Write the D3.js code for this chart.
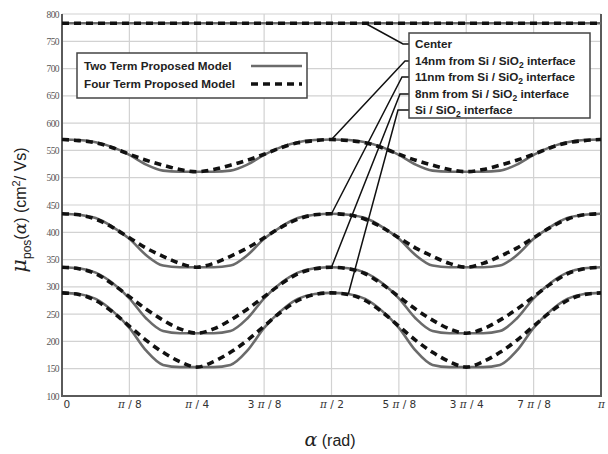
<!DOCTYPE html>
<html>
<head>
<meta charset="utf-8">
<script src="https://cdn.jsdelivr.net/npm/d3@7/dist/d3.min.js"></script>
<style>
  body { margin: 0; background: #fff; }
  svg { display: block; }
</style>
</head>
<body>
<svg id="chart" width="608" height="454"></svg>
<script>
// Sample positions along the angle axis, as fractions of pi
const alphaOverPi = [0, 0.03125, 0.0625, 0.09375, 0.125, 0.15625, 0.1875, 0.21875, 0.25,
  0.28125, 0.3125, 0.34375, 0.375, 0.40625, 0.4375, 0.46875, 0.5,
  0.53125, 0.5625, 0.59375, 0.625, 0.65625, 0.6875, 0.71875, 0.75,
  0.78125, 0.8125, 0.84375, 0.875, 0.90625, 0.9375, 0.96875, 1];

// Mobility (cm^2/Vs), two-term model
const centerTwo = [783,783,783,783,783,783,783,783,783,783,783,783,783,783,783,783,783,783,783,783,783,783,783,783,783,783,783,783,783,783,783,783,783];
const nm14Two = [570,569,565,556,542,524,513,511,511, 511,513,524,542,556,565,569,570, 569,565,556,542,524,513,511,511, 511,513,524,542,556,565,569,570];
const nm11Two = [434,432,426,410,388,358,339,336,336, 336,339,358,388,410,426,432,434, 432,426,410,388,358,339,336,336, 336,339,358,388,410,426,432,434];
const nm8Two = [336,334,326,307,279,242,219,215,215, 215,219,242,279,307,326,334,336, 334,326,307,279,242,219,215,215, 215,219,242,279,307,326,334,336];
const interfaceTwo = [289,287,278,256,225,183,157,153,153, 153,157,183,225,256,278,287,289, 287,278,256,225,183,157,153,153, 153,157,183,225,256,278,287,289];

// Mobility (cm^2/Vs), four-term model
const centerFour = [783,783,783,783,783,783,783,783,783,783,783,783,783,783,783,783,783,783,783,783,783,783,783,783,783,783,783,783,783,783,783,783,783];
const nm14Four = [570,568,564,555,543,532,523,515,511, 515,523,532,543,555,564,568,570, 568,564,555,543,532,523,515,511, 515,523,532,543,555,564,568,570];
const nm11Four = [434,432,424,409,390,371,356,343,336, 343,356,371,390,409,424,432,434, 432,424,409,390,371,356,343,336, 343,356,371,390,409,424,432,434];
const nm8Four = [336,333,324,305,282,259,239,223,215, 223,239,259,282,305,324,333,336, 333,324,305,282,259,239,223,215, 223,239,259,282,305,324,333,336];
const interfaceFour = [289,286,275,254,228,202,180,163,153, 163,180,202,228,254,275,286,289, 286,275,254,228,202,180,163,153, 163,180,202,228,254,275,286,289];

// Axis ticks
const xTickValues = [0, 0.125, 0.25, 0.375, 0.5, 0.625, 0.75, 0.875, 1];
const xTickLabels = ["0", "π / 8", "π / 4", "3 π / 8", "π / 2", "5 π / 8", "3 π / 4", "7 π / 8", "π"];
const yTickValues = [100, 150, 200, 250, 300, 350, 400, 450, 500, 550, 600, 650, 700, 750, 800];

// Legend and callout text
const legendLabels = ["Two Term Proposed Model", "Four Term Proposed Model"];
const calloutLabels = [
  ["Center"],
  ["14nm from Si / SiO", "2", " interface"],
  ["11nm from Si / SiO", "2", " interface"],
  ["8nm from Si / SiO", "2", " interface"],
  ["Si / SiO", "2", " interface"]
];

const svg = d3.select("#chart");
const W = 608, H = 454;
const plot = { left: 62, right: 601, top: 14, bottom: 396 };

const x = d3.scaleLinear().domain([0, Math.PI]).range([plot.left, plot.right]);
const y = d3.scaleLinear().domain([100, 800]).range([plot.bottom, plot.top]);

svg.append("rect").attr("width", W).attr("height", H).attr("fill", "#fff");

// Grid
const grid = svg.append("g");
grid.selectAll("line.h").data(yTickValues).join("line")
  .attr("x1", plot.left).attr("x2", plot.right)
  .attr("y1", d => y(d)).attr("y2", d => y(d))
  .attr("stroke", "#d2d2d2").attr("stroke-width", 1.2);
grid.selectAll("line.v").data(xTickValues).join("line")
  .attr("y1", plot.top).attr("y2", plot.bottom)
  .attr("x1", d => x(d * Math.PI)).attr("x2", d => x(d * Math.PI))
  .attr("stroke", "#d2d2d2").attr("stroke-width", 1.2);

// Axes
const yAxis = svg.append("g").attr("transform", `translate(${plot.left},0)`)
  .call(d3.axisLeft(y).tickValues(yTickValues).tickSize(0).tickPadding(3).tickFormat(d3.format("d")));
yAxis.select(".domain").remove();
yAxis.selectAll("text").attr("font-family", "Liberation Serif, serif").attr("font-size", 9.5)
  .attr("fill", "#555").attr("letter-spacing", -0.6);

const xAxis = svg.append("g").attr("transform", `translate(0,${plot.bottom})`)
  .call(d3.axisBottom(x).tickValues(xTickValues.map(d => d * Math.PI)).tickSize(0).tickPadding(5)
    .tickFormat((d, i) => xTickLabels[i]));
xAxis.select(".domain").remove();
xAxis.selectAll("text").each(function (d, i) {
  const t = d3.select(this);
  const label = xTickLabels[i];
  t.text(null).attr("font-family", "DejaVu Sans, sans-serif").attr("font-size", 10.5).attr("fill", "#333");
  if (i === 0) t.attr("text-anchor", "start").attr("x", 1);
  const parts = label.split("π");
  parts.forEach((p, j) => {
    if (j > 0) t.append("tspan").attr("font-style", "italic").attr("font-family", "DejaVu Serif, serif").text("π");
    if (p) t.append("tspan").text(p);
  });
});

// Frame
svg.append("path")
  .attr("d", `M${plot.left},${plot.top}V${plot.bottom}H${plot.right}V${plot.top}`)
  .attr("fill", "none").attr("stroke", "#5a5a5a").attr("stroke-width", 2);

// Curves
const seriesTwo = [centerTwo, nm14Two, nm11Two, nm8Two, interfaceTwo];
const seriesFour = [centerFour, nm14Four, nm11Four, nm8Four, interfaceFour];
const line = d3.line()
  .x((d, i) => x(alphaOverPi[i] * Math.PI))
  .y(d => y(d))
  .curve(d3.curveMonotoneX);

svg.append("g").selectAll("path").data(seriesTwo).join("path")
  .attr("d", line).attr("fill", "none")
  .attr("stroke", "#6b6b6b").attr("stroke-width", 2.6);
svg.append("g").selectAll("path").data(seriesFour).join("path")
  .attr("d", line).attr("fill", "none")
  .attr("stroke", "#111").attr("stroke-width", 3.6).attr("stroke-dasharray", "7,5");

// Legend
const lg = svg.append("g");
lg.append("rect").attr("x", 77).attr("y", 53).attr("width", 230).attr("height", 45)
  .attr("fill", "#fff").attr("stroke", "#444").attr("stroke-width", 1.5);
legendLabels.forEach((lab, i) => {
  const ly = 66 + i * 18;
  lg.append("text").attr("x", 84).attr("y", ly + 4).text(lab)
    .attr("font-family", "Liberation Sans, Arial, sans-serif").attr("font-weight", "bold")
    .attr("font-size", 11.7).attr("fill", "#222");
  lg.append("line").attr("x1", 251).attr("x2", 302).attr("y1", ly).attr("y2", ly)
    .attr("stroke", i === 0 ? "#6b6b6b" : "#111")
    .attr("stroke-width", i === 0 ? 2.6 : 3.6)
    .attr("stroke-dasharray", i === 0 ? null : "7,5");
});

// Callout box with leader lines to the curves
const box = { x: 409, y: 33, w: 181, h: 85 };
const rowY = [44, 61, 77, 94, 110];
const leaderTargets = [
  { series: centerFour, idx: 18, stub: 403 },
  { series: nm14Two, idx: 16, stub: 405 },
  { series: nm11Two, idx: 16, stub: 402 },
  { series: nm8Two, idx: 16, stub: 400 },
  { series: interfaceTwo, idx: 17, stub: 398 }
];
const cg = svg.append("g");
leaderTargets.forEach((t, i) => {
  const tx = x(alphaOverPi[t.idx] * Math.PI), ty = y(t.series[t.idx]);
  cg.append("path")
    .attr("d", `M${box.x},${rowY[i]}H${t.stub}L${tx},${ty}`)
    .attr("fill", "none").attr("stroke", "#111").attr("stroke-width", 1.5);
});
cg.append("rect").attr("x", box.x).attr("y", box.y).attr("width", box.w).attr("height", box.h)
  .attr("fill", "#fff").attr("stroke", "#444").attr("stroke-width", 1.5);
calloutLabels.forEach((parts, i) => {
  const t = cg.append("text").attr("x", box.x + 6).attr("y", rowY[i] + 4)
    .attr("font-family", "Liberation Sans, Arial, sans-serif").attr("font-weight", "bold")
    .attr("font-size", 11.7).attr("fill", "#222");
  parts.forEach((p, j) => {
    const ts = t.append("tspan").text(p);
    if (j === 1) ts.attr("font-size", 8.5).attr("dy", 3);
    if (j === 2) ts.attr("dy", -3);
  });
});

// Axis titles
const xt = svg.append("text").attr("x", 330).attr("y", 446).attr("text-anchor", "middle")
  .attr("font-family", "Liberation Sans, Arial, sans-serif").attr("font-size", 16).attr("fill", "#222");
xt.append("tspan").attr("font-style", "italic").attr("font-family", "DejaVu Serif, serif").attr("font-size", 19).text("α");
xt.append("tspan").text(" (rad)");

const yt = svg.append("text").attr("transform", "translate(26,210) rotate(-90)").attr("text-anchor", "middle")
  .attr("font-family", "Liberation Sans, Arial, sans-serif").attr("font-size", 16).attr("fill", "#222");
yt.append("tspan").attr("font-style", "italic").attr("font-family", "DejaVu Serif, serif").attr("font-size", 21).text("μ");
yt.append("tspan").attr("font-size", 12).attr("dy", 5).text("pos");
yt.append("tspan").attr("dy", -5).text("(");
yt.append("tspan").attr("font-style", "italic").attr("font-family", "DejaVu Serif, serif").attr("font-size", 17).text("α");
yt.append("tspan").text(") (cm");
yt.append("tspan").attr("font-size", 11).attr("dy", -6).text("2");
yt.append("tspan").attr("dy", 6).text("/ Vs)");
</script>
</body>
</html>
